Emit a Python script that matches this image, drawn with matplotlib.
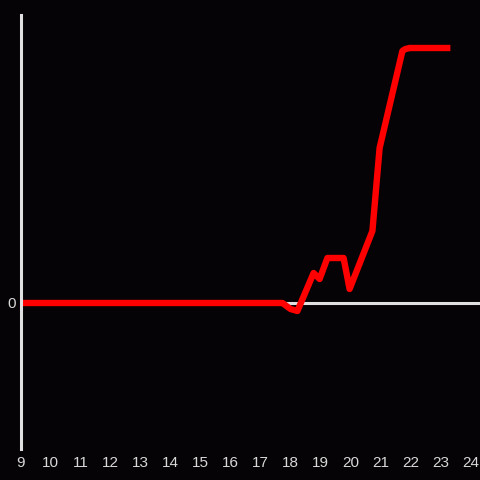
"""Evening curve on a dark background"""

from matplotlib import pyplot as plt

# hours of the day and values (arbitrary units, 0 = baseline)
hours = [9, 17.73, 18.0, 18.23, 18.77, 18.97, 19.23, 19.77, 19.97,
         20.73, 20.97, 21.73, 21.83, 21.97, 23.33]
values = [0, 0, -6, -8, 30, 24, 45, 45, 14,
          72, 155, 252, 254, 255, 255]
xticks = list(range(9, 25))

bg = "#050305"
axis_col = "#e0e0e0"
text_col = "#d8d8d8"

plt.rcParams["font.family"] = ["Liberation Sans", "DejaVu Sans"]

fig = plt.figure(figsize=(4.8, 4.8), dpi=100, facecolor=bg)
ax = fig.add_axes([20.5 / 480, 31 / 480, 460 / 480, 434 / 480])
ax.set_facecolor(bg)

ax.set_xlim(9, 9 + 460 / 30)
ax.set_ylim(-146, 288)

# baseline and left axis
ax.axhline(0, color=axis_col, lw=2.2, zorder=1)
for side in ["top", "right", "bottom"]:
    ax.spines[side].set_visible(False)
ax.spines["left"].set_color(axis_col)
ax.spines["left"].set_linewidth(2.2)

ax.plot(hours, values, color="#ff0000", lw=4.6, solid_joinstyle="round",
        solid_capstyle="butt", zorder=2)

ax.set_xticks(xticks)
ax.set_xticklabels([str(t) for t in xticks])
ax.set_yticks([0])
ax.set_yticklabels(["0"])
ax.tick_params(axis="both", length=0, colors=text_col, labelsize=11)
ax.tick_params(axis="x", pad=5)
ax.tick_params(axis="y", pad=3)

fig.savefig("out.png", facecolor=bg)
plt.close()
